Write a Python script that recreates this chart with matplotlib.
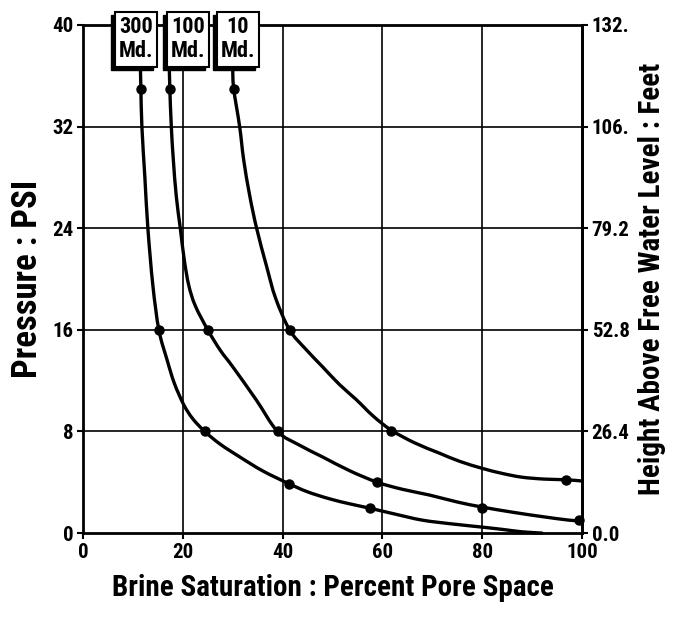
import numpy as np
import matplotlib
matplotlib.use("Agg")
import matplotlib.pyplot as plt
from matplotlib.patches import Rectangle, PathPatch
from matplotlib.path import Path

plt.rcParams['font.family'] = ['Roboto Condensed', 'DejaVu Sans']
plt.rcParams['font.weight'] = 'bold'

# permeability labels
perm_values = ["300", "100", "10"]
perm_unit = "Md."

# measured points (brine saturation %, pressure psi)
pts_300_x = [11.6, 15.2, 24.4, 41.2, 57.6]
pts_300_y = [35.0, 16.0, 8.0, 3.9, 1.95]
pts_100_x = [17.4, 25.0, 39.0, 59.0, 80.0, 99.4]
pts_100_y = [35.0, 16.0, 8.0, 4.0, 2.0, 1.0]
pts_10_x = [30.2, 41.4, 61.8, 96.8]
pts_10_y = [35.0, 16.0, 8.0, 4.2]

# curve traces
curve_300_x = [11.5, 11.6, 11.8, 12.4, 13.0, 14.0, 15.2, 16.8, 18.3, 20.2, 22.0, 24.4, 27.5,
               31.4, 36.0, 41.2, 45.0, 49.4, 53.5, 57.6, 62.5, 68.0, 74.0, 80.0, 84.5, 88.0, 92.0]
curve_300_y = [36.7, 35.0, 32.0, 28.0, 24.0, 19.5, 16.0, 13.7, 11.8, 10.1, 9.0, 8.0, 7.0,
               6.0, 4.9, 3.9, 3.25, 2.7, 2.3, 1.95, 1.5, 1.02, 0.72, 0.47, 0.27, 0.1, 0.0]
curve_100_x = [17.3, 17.4, 17.7, 18.1, 18.7, 19.5, 20.3, 21.2, 22.5, 25.0, 27.5, 30.0, 34.7, 39.0,
               43.5, 48.0, 53.5, 59.0, 64.0, 69.4, 75.0, 80.0, 86.0, 92.0, 97.4, 100.0]
curve_100_y = [36.7, 35.0, 32.0, 29.4, 26.5, 24.0, 21.5, 19.5, 17.9, 16.0, 14.4, 13.1, 10.5, 8.0,
               6.9, 6.0, 4.9, 4.0, 3.45, 3.0, 2.45, 2.05, 1.65, 1.3, 1.02, 0.95]
curve_10_x = [30.0, 30.2, 31.4, 32.2, 33.4, 34.8, 36.8, 38.6, 41.4, 44.6, 48.0, 51.4, 54.8,
              58.2, 61.8, 66.5, 71.4, 75.5, 80.0, 84.0, 88.0, 92.5, 96.8, 100.0]
curve_10_y = [36.7, 35.0, 32.0, 29.4, 26.6, 24.0, 21.0, 18.5, 16.0, 14.5, 13.1, 11.7, 10.5,
              9.2, 8.1, 7.1, 6.3, 5.65, 5.1, 4.7, 4.4, 4.25, 4.2, 4.1]

x_ticks = [0, 20, 40, 60, 80, 100]
y_ticks = [0, 8, 16, 24, 32, 40]
ft_ticks = [0.0, 26.4, 52.8, 79.2, 105.6, 132.0]
ft_labels = ["0.0", "26.4", "52.8", "79.2", "106.", "132."]


def smooth_path(xs, ys):
    # Catmull-Rom through the traced points, drawn as cubic Bezier segments
    p = np.column_stack([xs, ys])
    p = np.vstack([p[0], p, p[-1]])
    verts = [p[1]]
    codes = [Path.MOVETO]
    for i in range(1, len(p) - 2):
        c1 = p[i] + (p[i + 1] - p[i - 1]) / 6.0
        c2 = p[i + 1] - (p[i + 2] - p[i]) / 6.0
        verts += [c1, c2, p[i + 1]]
        codes += [Path.CURVE4] * 3
    return Path(verts, codes)


fig = plt.figure(figsize=(6.75, 6.17), dpi=100)
ax = fig.add_axes([0.123, 0.136, 0.739, 0.8235])

ax2 = ax.twinx()
ax2.set_ylim(0, 132)
ax2.set_yticks(ft_ticks)
ax2.set_yticklabels(ft_labels)
ax2.tick_params(axis='y', direction='out', length=4, width=1.5, labelsize=15, pad=3)
for side in ['top', 'left', 'bottom']:
    ax2.spines[side].set_visible(False)
ax2.spines['right'].set_linewidth(2)
ax2.set_ylabel("Height Above Free Water Level : Feet", fontsize=21, fontweight='bold', labelpad=6)
# keep the main axes (with boxes) drawn on top
ax.set_zorder(ax2.get_zorder() + 1)
ax.patch.set_visible(False)

for g in x_ticks[1:-1]:
    ax.axvline(g, color='black', lw=1.2, zorder=1)
for g in y_ticks[1:-1]:
    ax.axhline(g, color='black', lw=1.2, zorder=1)

for cx, cy in [(curve_300_x, curve_300_y), (curve_100_x, curve_100_y), (curve_10_x, curve_10_y)]:
    ax.add_patch(PathPatch(smooth_path(cx, cy), facecolor='none', edgecolor='black', lw=2.4,
                           capstyle='round', joinstyle='round', zorder=3, clip_on=False))
for px, py in [(pts_300_x, pts_300_y), (pts_100_x, pts_100_y), (pts_10_x, pts_10_y)]:
    ax.plot(px, py, 'o', color='black', ms=6.5, zorder=4, clip_on=False)

ax.set_xlim(0, 100)
ax.set_ylim(0, 40)
ax.set_xticks(x_ticks)
ax.set_yticks(y_ticks)
ax.tick_params(axis='both', direction='out', length=4, width=1.5, labelsize=15, pad=3)
for s in ax.spines.values():
    s.set_linewidth(2)
ax.set_xlabel("Brine Saturation : Percent Pore Space", fontsize=21, fontweight='bold', labelpad=9)
ax.set_ylabel("Pressure : PSI", fontsize=25, fontweight='bold', labelpad=6)

# label boxes sitting on the top frame
box_left = [6.4, 16.8, 26.8]
box_w = 8.4
box_bottom = 36.7
box_h = 4.3
for val, bx in zip(perm_values, box_left):
    ax.add_patch(Rectangle((bx - 0.7, box_bottom - 0.25), box_w, box_h, facecolor='black',
                           edgecolor='black', zorder=6, clip_on=False))
    ax.add_patch(Rectangle((bx, box_bottom), box_w, box_h, facecolor='white',
                           edgecolor='black', lw=1.5, zorder=7, clip_on=False))
    ax.text(bx + box_w / 2, box_bottom + 0.73 * box_h, val, ha='center', va='center',
            fontsize=16, fontweight='bold', zorder=8, clip_on=False)
    ax.text(bx + box_w / 2, box_bottom + 0.29 * box_h, perm_unit, ha='center', va='center',
            fontsize=16, fontweight='bold', zorder=8, clip_on=False)

fig.savefig("out.png", dpi=100)
